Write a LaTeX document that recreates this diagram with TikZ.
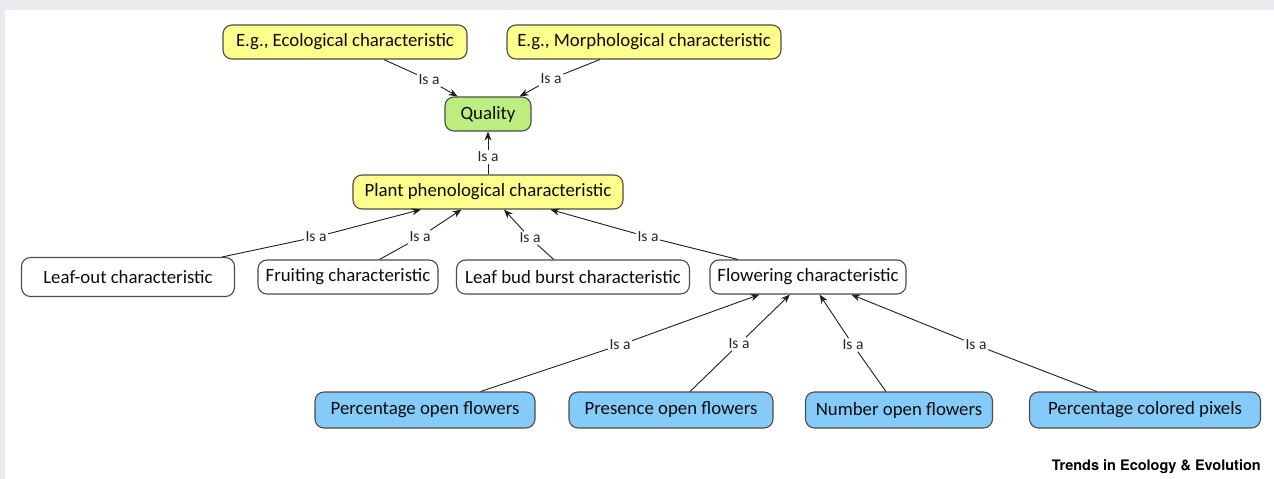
\documentclass[tikz,border=0pt]{standalone}
\usepackage{fontspec}
\setmainfont{Carlito}
\newfontfamily\trendsfont{TeX Gyre Heros}
\usetikzlibrary{arrows.meta}
\definecolor{pageGray}{HTML}{E8EAED}
\definecolor{boxBorder}{HTML}{4D4D45}
\definecolor{boxYellow}{HTML}{FFFD8C}
\definecolor{boxGreen}{HTML}{BDEC80}
\definecolor{boxBlue}{HTML}{84CBF9}
\definecolor{linkGray}{HTML}{1E1E1E}
\tikzset{
  concept/.style={draw=boxBorder, line width=1.1pt, rounded corners=9pt,
    minimum height=34pt, inner xsep=4pt, text=black!95,
    font=\fontsize{18.8}{21}\selectfont},
  isa/.style={inner sep=1.5pt, text=black!85, font=\fontsize{15.5}{17}\selectfont},
  link/.style={draw=linkGray, line width=0.9pt},
  isarrow/.style={link, -{Stealth[length=9pt, width=7pt]}},
}

\begin{document}
\begin{tikzpicture}[x=1pt, y=-1pt]
    \fill[pageGray] (0,0) rectangle (1274,479);
    \fill[white] (5,10) rectangle (1274,479);
    \useasboundingbox (0,0) rectangle (1274,479);

    % top level
    \node[concept, fill=boxYellow, minimum width=244pt] (eco) at (345,42) {E.g., Ecological characteristic};
    \node[concept, fill=boxYellow, minimum width=274pt] (morph) at (644,42) {E.g., Morphological characteristic};
    \node[concept, fill=boxGreen, minimum width=86pt] (quality) at (488,114) {Quality};
    \node[concept, fill=boxYellow, minimum width=270pt] (plant) at (488,192) {Plant phenological characteristic};

    % phenology classes
    \node[concept, fill=white, minimum width=213pt, minimum height=39pt] (leafout) at (128,277) {Leaf-out characteristic};
    \node[concept, fill=white, minimum width=180pt] (fruiting) at (348,277) {Fruiting characteristic};
    \node[concept, fill=white, minimum width=233pt] (budburst) at (573,277) {Leaf bud burst characteristic};
    \node[concept, fill=white, minimum width=196pt] (flowering) at (808,277) {Flowering characteristic};

    % flowering measures
    \node[concept, fill=boxBlue, minimum width=220pt, minimum height=36pt] (pctopen) at (425,410) {Percentage open flowers};
    \node[concept, fill=boxBlue, minimum width=204pt, minimum height=36pt] (presence) at (671,410) {Presence open flowers};
    \node[concept, fill=boxBlue, minimum width=187pt, minimum height=36pt] (number) at (899,410) {Number open flowers};
    \node[concept, fill=boxBlue, minimum width=231pt, minimum height=36pt] (pctcolor) at (1145,410) {Percentage colored pixels};

    % link labels
    \node[isa] (l1) at (429,80) {Is a};
    \node[isa] (l2) at (551,79) {Is a};
    \node[isa] (l3) at (488,157) {Is a};
    \node[isa] (l4) at (316,237) {Is a};
    \node[isa] (l5) at (420,237) {Is a};
    \node[isa] (l6) at (530,238) {Is a};
    \node[isa] (l7) at (648,237) {Is a};
    \node[isa] (l8) at (620,345) {Is a};
    \node[isa] (l9) at (739,344) {Is a};
    \node[isa] (l10) at (853,345) {Is a};
    \node[isa] (l11) at (976,345) {Is a};

    % links
    \draw[link] (eco) -- (l1);
    \draw[isarrow] (l1) -- (quality);
    \draw[link] (morph) -- (l2);
    \draw[isarrow] (l2) -- (quality);
    \draw[link] (plant) -- (l3);
    \draw[isarrow] (l3) -- (quality);
    \draw[link] (leafout) -- (l4);
    \draw[isarrow] (l4) -- (plant);
    \draw[link] (fruiting) -- (l5);
    \draw[isarrow] (l5) -- (plant);
    \draw[link] (budburst) -- (l6);
    \draw[isarrow] (l6) -- (plant);
    \draw[link] (flowering) -- (l7);
    \draw[isarrow] (l7) -- (plant);
    \draw[link] (pctopen) -- (l8);
    \draw[isarrow] (l8) -- (flowering);
    \draw[link] (presence) -- (l9);
    \draw[isarrow] (l9) -- (flowering);
    \draw[link] (number) -- (l10);
    \draw[isarrow] (l10) -- (flowering);
    \draw[link] (pctcolor) -- (l11);
    \draw[isarrow] (l11) -- (flowering);

    \node[anchor=base east, inner sep=0pt, font=\trendsfont\bfseries\fontsize{14.5}{16}\selectfont] (journal) at (1261,470) {Trends in Ecology \& Evolution};
\end{tikzpicture}
\end{document}
